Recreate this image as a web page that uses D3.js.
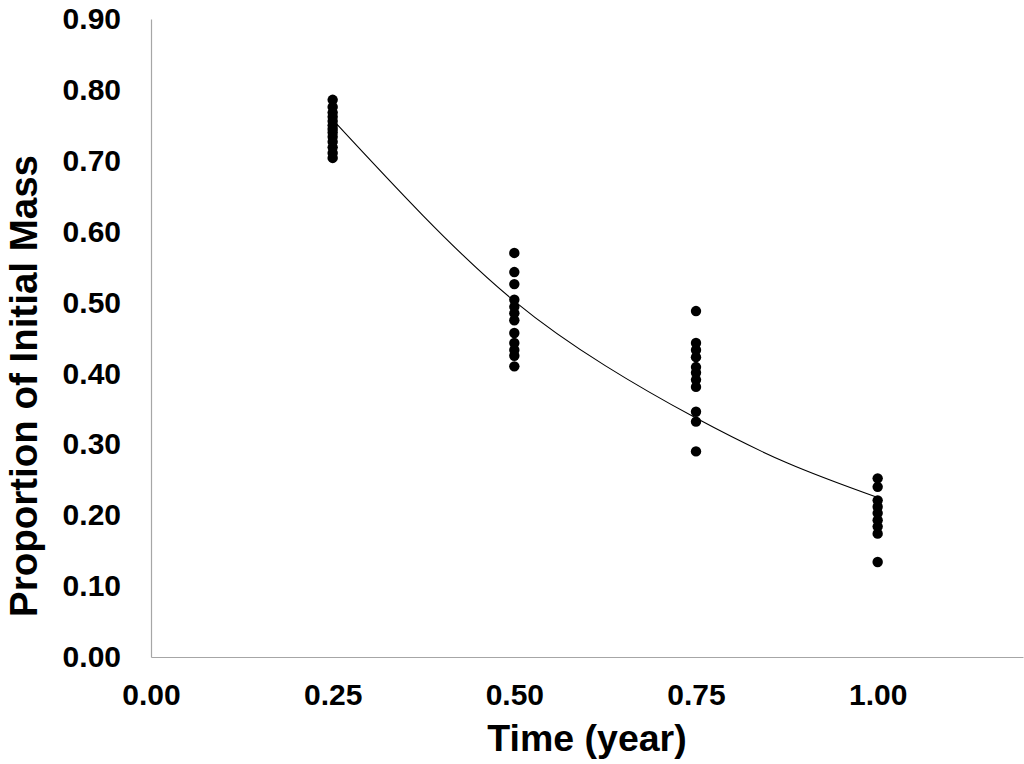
<!DOCTYPE html>
<html>
<head>
<meta charset="utf-8">
<script src="https://cdn.jsdelivr.net/npm/d3@7"></script>
<style>
  body { margin: 0; background: #fff; }
  text { font-family: "Liberation Sans", Arial, sans-serif; }
</style>
</head>
<body>
<div id="chart"></div>
<script>
// time (year) of each sampling
const times = [0.25, 0.50, 0.75, 1.00];

// proportion of initial mass, one array per sampling time
const mass025 = [0.786, 0.776, 0.768, 0.762, 0.756, 0.750, 0.745, 0.740, 0.734, 0.727, 0.719, 0.711, 0.704];
const mass050 = [0.570, 0.543, 0.526, 0.504, 0.494, 0.485, 0.475, 0.457, 0.443, 0.433, 0.425, 0.410];
const mass075 = [0.488, 0.443, 0.433, 0.423, 0.409, 0.401, 0.391, 0.381, 0.346, 0.332, 0.290];
const mass100 = [0.252, 0.240, 0.221, 0.212, 0.203, 0.193, 0.184, 0.174, 0.134];

// fitted decay curve
const curveX = [0.25, 0.375, 0.50, 0.625, 0.75, 0.875, 1.00];
const curveY = [0.758, 0.622, 0.502, 0.411, 0.337, 0.274, 0.225];

const xTicks = [0, 0.25, 0.5, 0.75, 1.0];
const yTicks = [0, 0.1, 0.2, 0.3, 0.4, 0.5, 0.6, 0.7, 0.8, 0.9];

const W = 1024, H = 764;

const svg = d3.select("#chart")
    .append("svg")
    .attr("width", W)
    .attr("height", H);

const x = d3.scaleLinear().domain([0, 1.2]).range([151, 1023]);
const y = d3.scaleLinear().domain([0, 0.9]).range([657, 19]);

const fmt = d3.format(".2f");

const yAxis = svg.append("g")
    .attr("transform", `translate(${x(0)},0)`)
    .call(d3.axisLeft(y).tickValues(yTicks).tickSize(0).tickSizeOuter(0).tickPadding(30).tickFormat(fmt));

const xAxis = svg.append("g")
    .attr("transform", `translate(0,${y(0)})`)
    .call(d3.axisBottom(x).tickValues(xTicks).tickSize(0).tickSizeOuter(0).tickPadding(27).tickFormat(fmt));

[xAxis, yAxis].forEach(g => {
    g.select(".domain").attr("stroke", "#a6a6a6").attr("stroke-width", 1.2);
    g.selectAll("text")
        .attr("fill", "#000")
        .style("font-size", "30px")
        .style("font-weight", "bold");
});

// points
const points = [];
[mass025, mass050, mass075, mass100].forEach((arr, i) => {
    arr.forEach(v => points.push({t: times[i], v: v}));
});

svg.selectAll(".dot")
    .data(points)
    .join("circle")
    .attr("class", "dot")
    .attr("cx", d => x(d.t))
    .attr("cy", d => y(d.v))
    .attr("r", 5.2)
    .attr("fill", "#000");

// trend line
const line = d3.line()
    .x((d, i) => x(curveX[i]))
    .y(d => y(d))
    .curve(d3.curveNatural);

svg.append("path")
    .datum(curveY)
    .attr("d", line)
    .attr("fill", "none")
    .attr("stroke", "#000")
    .attr("stroke-width", 1.1);

// axis titles
svg.append("text")
    .attr("x", (x(0) + x(1.2)) / 2)
    .attr("y", 751)
    .attr("text-anchor", "middle")
    .style("font-size", "37.5px")
    .style("font-weight", "bold")
    .text("Time (year)");

svg.append("text")
    .attr("transform", `translate(37,386) rotate(-90)`)
    .attr("text-anchor", "middle")
    .style("font-size", "38.5px")
    .style("font-weight", "bold")
    .text("Proportion of Initial Mass");
</script>
</body>
</html>
